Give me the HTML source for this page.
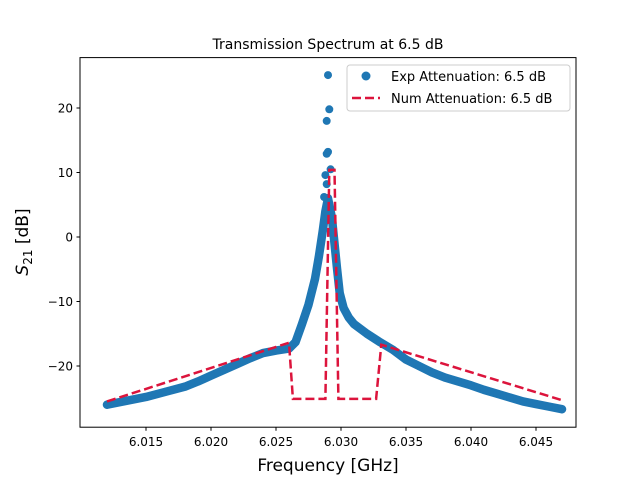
<!DOCTYPE html>
<html><head><meta charset="utf-8"><style>
body{margin:0;background:#fff;}
svg{display:block;font-family:"DejaVu Sans","Liberation Sans",sans-serif;}
</style></head><body>
<svg id="chart" width="640" height="480">
<rect width="640" height="480" fill="#fff"/>
<text x="328" y="49" font-size="14" text-anchor="middle">Transmission Spectrum at 6.5 dB</text>
<g id="plot"></g>
<rect x="80" y="57.6" width="496" height="369.6" fill="none" stroke="#000" stroke-width="1"/>
<g id="axes" font-size="12"></g>
<text x="328" y="471" font-size="17" text-anchor="middle">Frequency [GHz]</text>
<text transform="translate(28,242) rotate(-90)" font-size="17" text-anchor="middle"><tspan font-style="italic">S</tspan><tspan font-size="12" dy="4">21</tspan><tspan dy="-4"> [dB]</tspan></text>
<g>
<rect x="347" y="65" width="223" height="46" rx="3" fill="#fff" fill-opacity="0.8" stroke="#ccc"/>
<circle cx="366" cy="76" r="4.5" fill="#1f77b4"/>
<line x1="352" y1="98" x2="380" y2="98" stroke="#dc143c" stroke-width="2.5" stroke-dasharray="9,4"/>
<text x="391" y="81" font-size="13">Exp Attenuation: 6.5 dB</text>
<text x="391" y="103" font-size="13">Num Attenuation: 6.5 dB</text>
</g>
</svg>
<script>
const expX=[6.012,6.0135,6.015,6.0165,6.018,6.019,6.020,6.021,6.022,6.023,6.024,6.025,6.026,6.0265,6.027,6.0275,6.028,6.0283,6.0286,6.0288,6.029,6.0293,6.0295,6.0297,6.0299,6.0302,6.0306,6.031,6.032,6.033,6.034,6.035,6.036,6.037,6.038,6.039,6.040,6.041,6.042,6.043,6.044,6.045,6.046,6.047];
const expY=[-26,-25.4,-24.8,-24.0,-23.2,-22.4,-21.5,-20.6,-19.7,-18.8,-18,-17.6,-17.3,-16.3,-13.5,-10.5,-6.5,-3,1,4,6,3,-1,-5,-8.7,-11,-12.5,-13.5,-15,-16.3,-17.5,-19,-20,-21,-21.8,-22.4,-23,-23.7,-24.3,-24.9,-25.5,-25.9,-26.3,-26.7];
const peakX=[6.0290,6.0291,6.0289,6.0290,6.0289,6.0292,6.0288,6.0289,6.0287];
const peakY=[25.1,19.8,18,13.2,12.9,10.5,9.6,8.2,6.2];
const numX=[6.012,6.0260,6.0263,6.0288,6.0291,6.0295,6.0298,6.0327,6.0331,6.0470];
const numY=[-25.5,-16.4,-25.1,-25.1,10.4,10.4,-25.1,-25.1,-16.7,-25.3];
const xTicks=[6.015,6.020,6.025,6.030,6.035,6.040,6.045];
const yTicks=[-20,-10,0,10,20];
const NS="http://www.w3.org/2000/svg";
function sx(x){return 341+(x-6.030)*13000;}
function sy(y){return 237-y*6.45;}
const plot=document.getElementById('plot');
const axes=document.getElementById('axes');
function mk(tag,attrs,parent){const e=document.createElementNS(NS,tag);for(const k in attrs)e.setAttribute(k,attrs[k]);parent.appendChild(e);return e;}
const band=mk('polyline',{points:expX.map((x,i)=>sx(x)+','+sy(expY[i])).join(' '),fill:'none',stroke:'#1f77b4','stroke-width':8.5,'stroke-linejoin':'round','stroke-linecap':'round'},plot);


expX.forEach((x,i)=>{const c=mk('circle',{cx:sx(x),cy:sy(expY[i]),r:4,fill:'#1f77b4'},plot);

});
peakX.forEach((x,i)=>{const c=mk('circle',{cx:sx(x),cy:sy(peakY[i]),r:4,fill:'#1f77b4'},plot);

});
const nl=mk('polyline',{points:numX.map((x,i)=>sx(x)+','+sy(numY[i])).join(' '),fill:'none',stroke:'#dc143c','stroke-width':2.5,'stroke-dasharray':'9,4'},plot);


xTicks.forEach(t=>{const x=sx(t);mk('line',{x1:x,x2:x,y1:427.2,y2:430.7,stroke:'#000'},axes);
const tx=mk('text',{x:x,y:446,'text-anchor':'middle'},axes);tx.textContent=t.toFixed(3);

});
yTicks.forEach(t=>{const y=sy(t);mk('line',{x1:76.5,x2:80,y1:y,y2:y,stroke:'#000'},axes);
const tx=mk('text',{x:73,y:y+4.5,'text-anchor':'end'},axes);tx.textContent=(t<0?'\u2212'+(-t):t);

});
</script>
</body></html>
